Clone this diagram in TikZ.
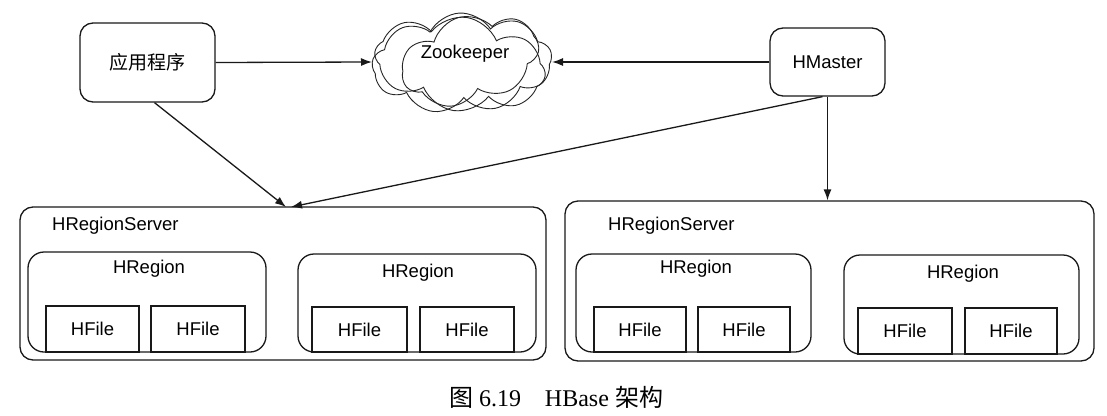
\documentclass[tikz,border=0pt]{standalone}
\usepackage{fontspec}
\setmainfont{Liberation Serif}
\newfontfamily\sansf{Liberation Sans}
\newfontfamily\cjk{Noto Sans CJK SC}
\usetikzlibrary{arrows.meta,shapes.symbols}
\begin{document}
\begin{tikzpicture}[x=1pt,y=-1pt,
  ln/.style={draw=black!90, line width=1.3pt},
  rbox/.style={ln, rounded corners=13pt, inner sep=0pt, font=\sansf\fontsize{18.5}{22}\selectfont},
  fbox/.style={ln, fill=white, inner sep=0pt, font=\sansf\fontsize{18.5}{22}\selectfont},
  lbl/.style={inner sep=0pt, font=\sansf\fontsize{18.5}{22}\selectfont},
  arr/.style={draw=black!90, line width=1.3pt, -{Latex[length=11pt,width=8pt]}},
  cl/.style={cloud, draw=black!85, line width=0.9pt, aspect=1.8, inner sep=0pt, cloud puff arc=120}]
\useasboundingbox (0,0) rectangle (1107,415);
\fill[white] (0,0) rectangle (1107,415);

% top row
\node[rbox, minimum width=135pt, minimum height=79pt, font=\cjk\fontsize{19}{22}\selectfont] (app) at (147.5,62.5) {应用程序};
\node[rbox, minimum width=115pt, minimum height=68pt] (hm) at (827.5,62) {HMaster};

% cloud (several sketchy outlines)
\node[cl, cloud puffs=9, minimum width=180pt, minimum height=100pt, rotate=3] (c1) at (462,63) {};
\node[cl, cloud puffs=8, minimum width=172pt, minimum height=94pt, rotate=-8] (c2) at (460,64) {};
\node[cl, cloud puffs=7, minimum width=140pt, minimum height=88pt, rotate=15] (c3) at (470,60) {};
\node[lbl] (zk) at (465,54) {Zookeeper};

% servers
\node[rbox, minimum width=526pt, minimum height=153pt] (rs1) at (283,283.5) {};
\node[rbox, minimum width=529pt, minimum height=160pt] (rs2) at (829.5,281) {};
\node[lbl, anchor=west] (rs1l) at (52,226) {HRegionServer};
\node[lbl, anchor=west] (rs2l) at (608,226) {HRegionServer};

% regions
\node[rbox, rounded corners=16pt, minimum width=238pt, minimum height=100pt] (r1) at (147,302) {};
\node[rbox, rounded corners=16pt, minimum width=238pt, minimum height=98pt] (r2) at (417,303) {};
\node[rbox, rounded corners=16pt, minimum width=235pt, minimum height=98pt] (r3) at (693.5,303) {};
\node[rbox, rounded corners=16pt, minimum width=235pt, minimum height=99pt] (r4) at (961.5,304.5) {};
\node[lbl] (r1l) at (149,269) {HRegion};
\node[lbl] (r2l) at (418,273) {HRegion};
\node[lbl] (r3l) at (696,269) {HRegion};
\node[lbl] (r4l) at (963,274) {HRegion};

% hfiles
\node[fbox, minimum width=93pt, minimum height=46pt] (f1) at (92.5,329) {HFile};
\node[fbox, minimum width=94pt, minimum height=46pt] (f2) at (198,329) {HFile};
\node[fbox, minimum width=95pt, minimum height=45pt] (f3) at (359.5,329.5) {HFile};
\node[fbox, minimum width=94pt, minimum height=45pt] (f4) at (467,329.5) {HFile};
\node[fbox, minimum width=92pt, minimum height=45pt] (f5) at (640,329.5) {HFile};
\node[fbox, minimum width=92pt, minimum height=45pt] (f6) at (744,329.5) {HFile};
\node[fbox, minimum width=94pt, minimum height=46pt] (f7) at (905,331) {HFile};
\node[fbox, minimum width=92pt, minimum height=46pt] (f8) at (1011,331) {HFile};

% connectors
\coordinate (t1) at (286,207);
\coordinate (t2) at (291,207);
\coordinate (zkl) at (372,62);
\coordinate (zkr) at (552,62);
\draw[arr] (app.east) -- (zkl);
\draw[arr] (hm.west) -- (zkr);
\draw[arr] ([xshift=7pt]app.south) -- (t1);
\draw[arr] ([xshift=-5pt]hm.south) -- (t2);
\draw[arr] (hm.south) -- (hm.south |- rs2.north);

% caption
\node[inner sep=0pt, font=\fontsize{24}{28}\selectfont] (cap) at (556,397) {{\cjk 图} 6.19\quad HBase {\cjk 架构}};
\end{tikzpicture}
\end{document}
